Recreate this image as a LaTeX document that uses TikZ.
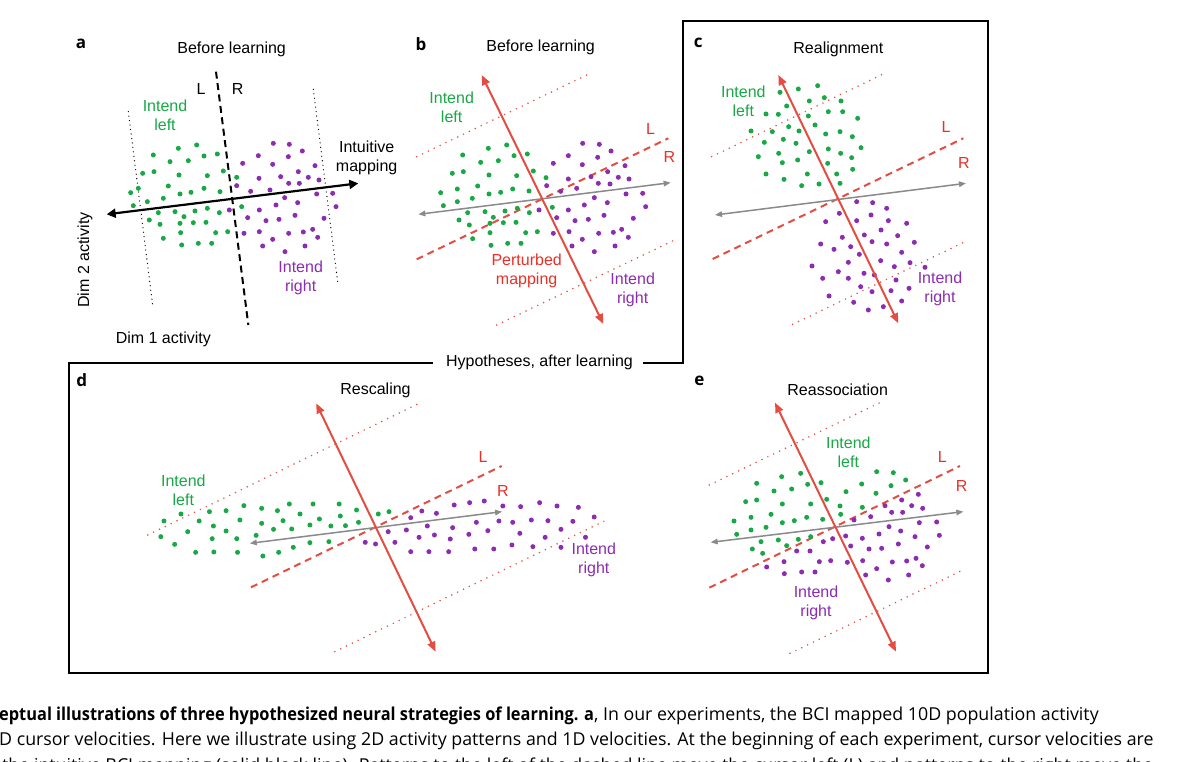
\documentclass[tikz,border=0pt]{standalone}
\usepackage{fontspec}
\setmainfont{Liberation Sans}
\newfontfamily\capfont{Open Sans}
\newfontfamily\capboldfont{Open Sans}[FakeStretch=0.92]
\usetikzlibrary{arrows.meta}
\definecolor{dgreen}{RGB}{24,168,70}
\definecolor{dpurple}{RGB}{140,44,176}
\definecolor{lred}{RGB}{228,78,66}
\definecolor{tred}{RGB}{234,48,38}
\definecolor{lgray}{RGB}{138,138,138}
\tikzset{
  gdot/.style={circle,fill=dgreen,draw=none,inner sep=0pt,minimum size=5pt},
  pdot/.style={circle,fill=dpurple,draw=none,inner sep=0pt,minimum size=5pt},
  lab/.style={font=\fontsize{16}{19}\selectfont,align=center,inner sep=0pt},
  glab/.style={lab,text=dgreen},
  plab/.style={lab,text=dpurple},
  rlab/.style={lab,text=tred},
  panlab/.style={font=\capfont\bfseries\fontsize{17}{17}\selectfont,inner sep=0pt},
  redarrow/.style={draw=lred,line width=2pt,{Triangle[length=10pt,width=8pt]}-{Triangle[length=10pt,width=8pt]}},
  grayarrow/.style={draw=lgray,line width=1.5pt,{Triangle[length=7pt,width=5.5pt]}-{Triangle[length=7pt,width=5.5pt]}},
  blackarrow/.style={draw=black,line width=2.2pt,{Triangle[length=9pt,width=9pt]}-{Triangle[length=9pt,width=9pt]}},
  reddash/.style={draw=lred,line width=2pt,dash pattern=on 7pt off 5pt},
  reddot/.style={draw=lred,line width=1.7pt,line cap=round,dash pattern=on 0pt off 6.5pt},
  blackdash/.style={draw=black,line width=2pt,dash pattern=on 7pt off 4.5pt},
  blackdot/.style={draw=black,line width=1.3pt,line cap=round,dash pattern=on 0pt off 4.5pt},
  frame/.style={draw=black,line width=2pt},
  captxt/.style={font=\capfont\fontsize{17.8}{20}\selectfont,inner sep=0pt,anchor=base west}
}
\begin{document}
\begin{tikzpicture}[x=1pt,y=-1pt]
\useasboundingbox (0,0) rectangle (1192,762);
\fill[white] (0,0) rectangle (1192,762);

% ---------- frame ----------
\coordinate (f1) at (683,21);
\coordinate (f2) at (988,21);
\coordinate (f3) at (988,673);
\coordinate (f4) at (69,673);
\coordinate (f5) at (69,362.7);
\coordinate (f6) at (433,362.7);
\coordinate (f7) at (643,362.7);
\coordinate (f8) at (683,362.7);
\draw[frame] (f6) -- (f5) -- (f4) -- (f3) -- (f2) -- (f1) -- (f8) -- (f7);
\node[lab] (hyp) at (539.5,362.7) {Hypotheses, after learning};

% ---------- panel a ----------
\begin{scope}[shift={(60,30)},scale=0.33333]
\coordinate (adt) at (468,125); \coordinate (adb) at (565,885);
\coordinate (alt) at (205,245); \coordinate (alb) at (278,825);
\coordinate (art) at (760,178); \coordinate (arb) at (833,755);
\coordinate (aml) at (140,553); \coordinate (amr) at (895,460);
\draw[blackdot] (alt) -- (alb);
\draw[blackdot] (art) -- (arb);
\draw[blackdash] (adt) -- (adb);
\foreach \p [count=\i] in {(280,375),(355,355),(410,345),(330,395),(385,392),(432,378),(472,372),(248,430),(282,425),(357,435),(442,437),(490,423),(530,442),(212,488),(235,475),(325,468),(360,492),(393,487),(432,475),(480,485),(220,527),(262,515),(310,505),(295,548),(345,545),(372,560),(405,543),(442,535),(478,548),(545,530),(268,570),(300,583),(360,580),(400,578),(438,577),(310,625),(362,608),(467,608),(503,605),(365,645),(415,640),(455,640)}
  \node[gdot] (ag\i) at \p {};
\foreach \p [count=\i] in {(640,340),(688,343),(595,377),(685,380),(727,363),(548,400),(638,403),(765,407),(530,467),(597,445),(662,440),(715,425),(745,442),(777,450),(686,460),(718,460),(572,484),(630,480),(674,503),(770,492),(818,490),(713,518),(648,525),(598,540),(563,563),(618,572),(657,568),(705,556),(792,565),(828,530),(508,540),(552,610),(598,605),(638,628),(686,610),(730,606),(758,598),(773,622),(608,648),(675,665),(735,648)}
  \node[pdot] (ap\i) at \p {};
\draw[blackarrow] (aml) -- (amr);
\node[panlab] (la) at (63,42) {a};
\node[lab] (ta) at (515,58) {Before learning};
\node[lab] (aL) at (423,178) {L};
\node[lab] (aR) at (533,178) {R};
\node[glab] (ail) at (315,257) {Intend\\left};
\node[lab] (aim) at (920,383) {Intuitive\\mapping};
\node[plab] (air) at (722,745) {Intend\\right};
\node[lab] (ad1) at (310,928) {Dim 1 activity};
\node[lab,rotate=90] (ad2) at (75,690) {Dim 2 activity};
\end{scope}

% ---------- panel b ----------
\begin{scope}[shift={(400,30)},scale=0.33333]
\coordinate (bs1) at (245,135); \coordinate (bs2) at (610,882);
\coordinate (bu1) at (50,380); \coordinate (bu2) at (575,128);
\coordinate (bd1) at (50,688); \coordinate (bd2) at (805,325);
\coordinate (bl1) at (290,885); \coordinate (bl2) at (820,632);
\coordinate (bg1) at (55,553); \coordinate (bg2) at (812,458);
\draw[reddot] (bu1) -- (bu2);
\draw[reddot] (bl1) -- (bl2);
\draw[reddash] (bd1) -- (bd2);
\foreach \p [count=\i] in {(265,355),(320,345),(188,375),(342,377),(382,372),(242,397),(295,392),(157,430),(190,425),(267,435),(350,437),(400,423),(438,443),(122,488),(172,477),(233,468),(267,492),(302,487),(338,477),(387,483),(130,527),(172,515),(217,505),(203,548),(255,545),(280,562),(315,543),(352,535),(388,548),(457,532),(177,570),(208,585),(270,580),(310,578),(348,577),(218,626),(270,608),(377,608),(412,605),(273,646),(323,640),(363,640)}
  \node[gdot] (bgd\i) at \p {};
\foreach \p [count=\i] in {(548,340),(598,343),(505,377),(593,382),(633,363),(460,400),(547,404),(675,407),(440,467),(505,447),(573,440),(623,425),(655,442),(687,447),(595,460),(630,462),(482,484),(530,475),(583,503),(678,492),(728,490),(622,518),(553,525),(505,540),(417,540),(470,563),(525,572),(565,568),(612,556),(700,565),(737,530),(460,610),(507,605),(547,628),(596,610),(640,607),(665,598),(685,622),(516,648),(583,665),(645,648)}
  \node[pdot] (bpd\i) at \p {};
\draw[grayarrow] (bg1) -- (bg2);
\draw[redarrow] (bs1) -- (bs2);
\node[panlab] (lb) at (63,42) {b};
\node[lab] (tb) at (422,52) {Before learning};
\node[rlab] (bL) at (752,297) {L};
\node[rlab] (bR) at (808,380) {R};
\node[glab] (bil) at (155,232) {Intend\\left};
\node[rlab] (bpm) at (380,722) {Perturbed\\mapping};
\node[plab] (bir) at (698,780) {Intend\\right};
\end{scope}

% ---------- panel c ----------
\begin{scope}[shift={(680,20)},scale=0.33333]
\coordinate (cs1) at (295,165); \coordinate (cs2) at (655,910);
\coordinate (cu1) at (95,410); \coordinate (cu2) at (620,157);
\coordinate (cd1) at (98,717); \coordinate (cd2) at (850,355);
\coordinate (cl1) at (338,913); \coordinate (cl2) at (862,662);
\coordinate (cg1) at (105,585); \coordinate (cg2) at (858,490);
\draw[reddot] (cu1) -- (cu2);
\draw[reddot] (cl1) -- (cl2);
\draw[reddash] (cd1) -- (cd2);
\foreach \p [count=\i] in {(413,197),(355,207),(300,217),(433,233),(388,243),(483,243),(320,258),(445,275),(488,275),(258,282),(295,283),(385,288),(533,295),(405,315),(326,320),(213,333),(277,335),(357,333),(437,342),(480,335),(517,350),(253,367),(310,358),(348,370),(543,383),(445,387),(388,395),(235,410),(296,400),(482,400),(515,413),(307,428),(353,420),(443,430),(518,448),(258,462),(382,462),(470,462),(312,478),(365,497),(417,492),(480,490)}
  \node[gdot] (cgd\i) at \p {};
\foreach \p [count=\i] in {(530,545),(578,548),(620,565),(478,580),(573,585),(437,605),(530,602),(625,602),(680,610),(603,630),(487,652),(553,645),(653,647),(422,672),(462,688),(512,680),(576,665),(620,672),(703,667),(538,703),(665,697),(505,727),(602,722),(690,728),(396,738),(643,740),(735,742),(475,755),(552,760),(428,775),(505,775),(583,765),(648,780),(687,805),(542,800),(447,828),(576,815),(633,812),(521,847),(565,870),(610,860),(665,843)}
  \node[pdot] (cpd\i) at \p {};
\draw[grayarrow] (cg1) -- (cg2);
\draw[redarrow] (cs1) -- (cs2);
\node[panlab] (lc) at (55,70) {c};
\node[lab] (tc) at (475,88) {Realignment};
\node[rlab] (cL) at (798,320) {L};
\node[rlab] (cR) at (852,430) {R};
\node[glab] (cil) at (190,245) {Intend\\left};
\node[plab] (cir) at (780,808) {Intend\\right};
\end{scope}

% ---------- panel d ----------
\begin{scope}[shift={(60,340)},xscale=0.3954,yscale=0.33333]
\coordinate (ds1) at (648,190); \coordinate (ds2) at (950,935);
\coordinate (du1) at (222,585); \coordinate (du2) at (905,192);
\coordinate (dd1) at (483,742); \coordinate (dd2) at (1117,378);
\coordinate (dl1) at (695,935); \coordinate (dl2) at (1382,540);
\coordinate (dg1) at (480,610); \coordinate (dg2) at (1118,515);
\draw[reddot] (du1) -- (du2);
\draw[reddot] (dl1) -- (dl2);
\draw[reddash] (dd1) -- (dd2);
\foreach \p [count=\i] in {(465,497),(510,505),(580,492),(640,492),(706,492),(378,515),(420,512),(306,522),(550,512),(607,522),(750,510),(805,522),(832,515),(263,543),(352,543),(455,540),(510,550),(564,542),(656,537),(709,528),(388,558),(540,568),(586,567),(632,555),(685,558),(722,557),(755,547),(323,575),(420,573),(496,586),(255,590),(385,596),(447,596),(290,613),(632,608),(680,605),(590,622),(343,637),(389,636),(449,637),(513,648),(553,637)}
  \node[gdot] (dgd\i) at \p {};
\foreach \p [count=\i] in {(997,495),(1036,488),(1073,483),(1120,498),(1165,500),(1213,488),(1257,498),(1311,502),(915,513),(952,520),(887,533),(1053,547),(1110,543),(1145,547),(1192,540),(1234,542),(1297,544),(1351,531),(929,558),(993,563),(830,575),(876,570),(1082,572),(1163,580),(1267,568),(908,592),(947,585),(987,597),(1034,583),(1227,592),(1329,592),(772,607),(798,612),(847,607),(1143,615),(1196,620),(1267,622),(887,635),(933,635),(983,635),(1049,627),(1097,627)}
  \node[pdot] (dpd\i) at \p {};
\draw[grayarrow] (dg1) -- (dg2);
\draw[redarrow] (ds1) -- (ds2);
\node[panlab] (ld) at (55,120) {d};
\node[lab] (td) at (798,150) {Rescaling};
\node[rlab] (dL) at (1070,352) {L};
\node[rlab] (dR) at (1120,452) {R};
\node[glab] (dil) at (312,452) {Intend\\left};
\node[plab] (dir) at (1350,660) {Intend\\right};
\end{scope}

% ---------- panel e ----------
\begin{scope}[shift={(680,360)},scale=0.33333]
\coordinate (es1) at (285,128); \coordinate (es2) at (648,875);
\coordinate (eu1) at (88,375); \coordinate (eu2) at (612,122);
\coordinate (ed1) at (88,683); \coordinate (ed2) at (840,318);
\coordinate (el1) at (330,880); \coordinate (el2) at (855,627);
\coordinate (eg1) at (92,547); \coordinate (eg2) at (850,455);
\draw[reddot] (eu1) -- (eu2);
\draw[reddot] (el1) -- (el2);
\draw[reddash] (ed1) -- (ed2);
\foreach \p [count=\i] in {(305,350),(362,340),(230,370),(383,373),(423,368),(282,393),(335,387),(197,425),(230,420),(307,432),(392,432),(440,418),(480,438),(162,483),(213,472),(273,463),(307,488),(343,482),(380,472),(428,478),(170,523),(213,510),(258,502),(243,545),(295,540),(320,557),(355,538),(392,530),(217,567),(248,580),(545,372),(590,335),(640,338),(677,360),(498,395),(588,400),(633,377),(547,442),(482,463)}
  \node[gdot] (egd\i) at \p {};
\foreach \p [count=\i] in {(715,403),(665,420),(615,437),(695,437),(728,445),(635,457),(668,457),(572,470),(522,480),(718,488),(770,486),(627,500),(662,513),(597,522),(778,526),(705,530),(547,535),(497,528),(458,536),(430,545),(512,558),(567,567),(605,565),(655,552),(742,561),(350,573),(390,573),(418,605),(452,602),(502,607),(548,602),(312,605),(637,606),(680,603),(708,595),(727,617),(260,621),(313,641),(365,636),(405,636),(557,645),(590,626),(625,660),(686,645)}
  \node[pdot] (epd\i) at \p {};
\draw[grayarrow] (eg1) -- (eg2);
\draw[redarrow] (es1) -- (es2);
\node[panlab] (le) at (58,62) {e};
\node[lab] (te) at (473,88) {Reassociation};
\node[rlab] (eL) at (787,292) {L};
\node[rlab] (eR) at (845,378) {R};
\node[glab] (eil) at (505,278) {Intend\\left};
\node[plab] (eir) at (408,730) {Intend\\right};
\end{scope}

% ---------- caption ----------
\begin{scope}
\clip (0,0) rectangle (1192,762);
\node[captxt] (cap1) at (-1,720) {{\capboldfont\bfseries eptual illustrations of three hypothesized neural strategies of learning. a}, In our experiments, the BCI mapped 10D population activity};
\node[captxt] (cap2) at (-1,745) {D cursor velocities. Here we illustrate using 2D activity patterns and 1D velocities. At the beginning of each experiment, cursor velocities are};
\node[captxt] (cap3) at (2,771) {the intuitive BCI mapping (solid black line). Patterns to the left of the dashed line move the cursor left (L) and patterns to the right move the};
\end{scope}
\end{tikzpicture}
\end{document}
